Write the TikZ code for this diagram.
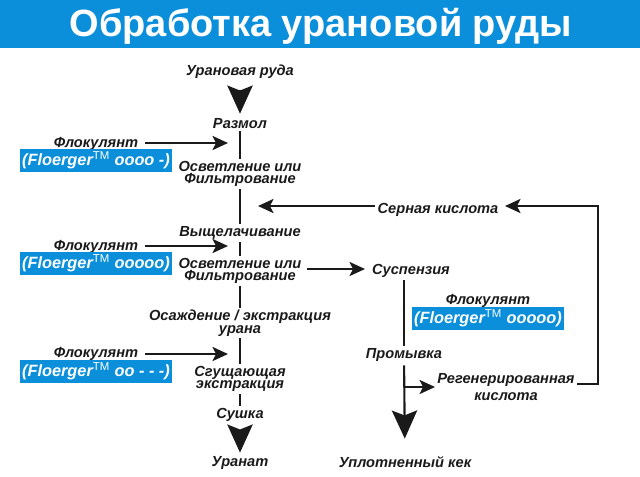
\documentclass[tikz,border=0pt]{standalone}
\usepackage{fontspec}
\setmainfont{Liberation Sans}
\usetikzlibrary{arrows.meta,calc}
\definecolor{bandblue}{HTML}{0B8FDB}
\definecolor{inkblack}{HTML}{1A1A1A}
\tikzset{%
	stage/.style    = {text=inkblack, font=\fontsize{10.4}{8.9}\selectfont\bfseries\itshape, align=center, inner sep=1.5pt},
	brand/.style    = {fill=bandblue, text=white, font=\fontsize{11.6}{12}\selectfont\bfseries\itshape, minimum width=152*0.025cm, minimum height=23*0.025cm, inner sep=0pt},
	flow/.style     = {draw=inkblack, line width=1.5pt},
	arrow/.style    = {flow, -{Stealth[length=11pt,width=10pt,inset=2.5pt]}},
	bigarrow/.style = {flow, -{Stealth[length=20pt,width=18pt,inset=3.5pt]}},
}
\newcommand{\tmark}{\textsuperscript{\upshape\mdseries TM}}

\begin{document}
\begin{tikzpicture}[x=0.025cm,y=-0.025cm]
	\useasboundingbox (0,0) rectangle (640,476);
	\fill[bandblue] (0,0) rectangle (640,48);
	\node[text=white,font=\fontsize{27}{30}\selectfont\bfseries] (title) at (321,26) {Обработка урановой руды};

	% left column
	\node[stage] (ore)    at (240,72)  {Урановая руда};
	\node[stage] (mill)   at (240,124) {Размол};
	\node[stage] (clarA)  at (240,174) {Осветление или\\Фильтрование};
	\node[stage] (leach)  at (240,233) {Выщелачивание};
	\node[stage] (clarB)  at (240,271) {Осветление или\\Фильтрование};
	\node[stage] (precip) at (240,323) {Осаждение / экстракция\\урана};
	\node[stage] (thick)  at (240,379) {Сгущающая\\экстракция};
	\node[stage] (dry)    at (240,415) {Сушка};
	\node[stage] (prod)   at (240,463) {Уранат};

	\draw[bigarrow,shorten <=6pt,shorten >=2pt] (ore) -- (mill);
	\draw[flow] (mill) -- (clarA);
	\draw[flow] (clarA) -- (leach);
	\draw[flow] (leach) -- (clarB);
	\draw[flow] (clarB) -- (precip);
	\draw[flow] (precip) -- (thick);
	\draw[flow] (thick) -- (dry);
	\draw[bigarrow,shorten <=4pt,shorten >=1pt] (dry) -- (prod);

	% flocculant feeds
	\node[stage] (flocA) at (96,144) {Флокулянт};
	\node[brand] (brandA) at (96,160.5) {(Floerger\tmark\ oooo -)};
	\coordinate (tipA) at (228,143);
	\draw[arrow,shorten <=3pt] (flocA.east |- tipA) -- (tipA);

	\node[stage] (flocB) at (96,247) {Флокулянт};
	\node[brand] (brandB) at (96,263.5) {(Floerger\tmark\ ooooo)};
	\coordinate (tipB) at (228,246);
	\draw[arrow,shorten <=3pt] (flocB.east |- tipB) -- (tipB);

	\node[stage] (flocC) at (96,354) {Флокулянт};
	\node[brand] (brandC) at (96,371) {(Floerger\tmark\ oo - - -)};
	\coordinate (tipC) at (228,354);
	\draw[arrow,shorten <=3pt] (flocC.east |- tipC) -- (tipC);

	% right column
	\node[stage] (acid)  at (438,210) {Серная кислота};
	\node[stage] (susp)  at (411,271) {Суспензия};
	\node[stage] (flocD) at (488,301) {Флокулянт};
	\node[brand] (brandD) at (488,318) {(Floerger\tmark\ ooooo)};
	\node[stage] (wash)  at (404,355) {Промывка};
	\node[stage,align=center] (regen) at (506,387) {Регенерированная\\[2.8pt]кислота};
	\node[stage] (cake)  at (405,462) {Уплотненный кек};

	\coordinate (tipS) at (258,206);
	\coordinate (tipU) at (365,269);
	\coordinate (tipR) at (505,206);
	\coordinate (corner) at (598,384);
	\coordinate (split) at (404,387);

	\draw[arrow] (acid.west |- tipS) -- (tipS);
	\draw[arrow,shorten <=2pt] (clarB.east |- tipU) -- (tipU);
	\draw[flow] (susp.south -| split) -- (wash);
	\draw[bigarrow,shorten <=1pt,shorten >=11pt] (wash) -- (cake);
	\draw[arrow] (split) -- (regen.west |- split);
	\draw[arrow] (regen.east |- corner) -- (corner) |- (tipR);
\end{tikzpicture}
\end{document}
